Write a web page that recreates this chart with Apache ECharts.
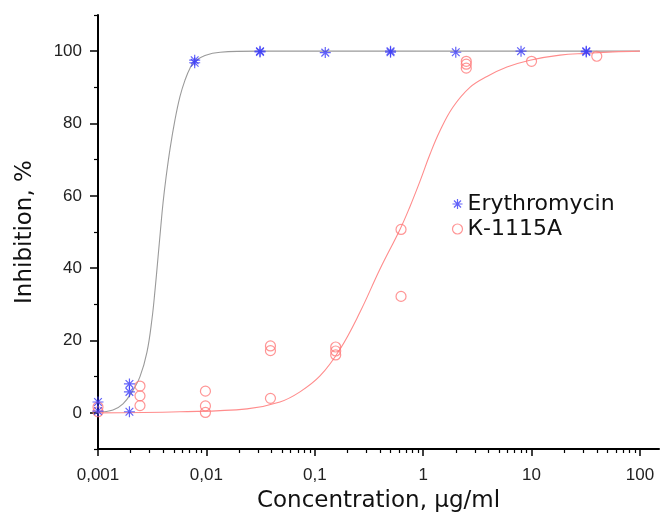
<!DOCTYPE html>
<html>
<head>
<meta charset="utf-8">
<script src="https://cdn.jsdelivr.net/npm/echarts@6/dist/echarts.min.js"></script>
<style>
html,body{margin:0;padding:0;background:#fff;}
#chart{width:662px;height:518px;}
</style>
</head>
<body>
<div id="chart"></div>
<script>
// ---- data ----
const seriesNames = ['Erythromycin', 'К-1115A'];

// Erythromycin measured points [concentration, inhibition %]
const erythromycinPoints = [
  [0.001, 3], [0.001, 0.5],
  [0.00195, 8], [0.00195, 5.8], [0.00195, 0.3],
  [0.0078, 97.5], [0.0078, 96.8],
  [0.03125, 100], [0.03125, 99.8],
  [0.125, 99.6],
  [0.5, 100], [0.5, 99.7],
  [2, 99.7],
  [8, 100],
  [32, 100], [32, 99.8]
];

// K-1115A measured points
const k1115Points = [
  [0.001, 1.6], [0.001, 0.3],
  [0.00244, 7.4], [0.00244, 4.7], [0.00244, 2],
  [0.0098, 6], [0.0098, 1.9], [0.0098, 0.1],
  [0.039, 18.5], [0.039, 17.2], [0.039, 4],
  [0.156, 18.2], [0.156, 17.1], [0.156, 16],
  [0.625, 50.7], [0.625, 32.2],
  [2.5, 97.2], [2.5, 96.4], [2.5, 95.3],
  [10, 97.2],
  [40, 98.6]
];

// fitted curves, points
const erythromycinCurve = [
  [0.001, 0.2], [0.001375, 0.8], [0.0017, 2.5], [0.00206, 5.8], [0.00244, 10],
  [0.00283, 16.8], [0.00315, 26], [0.00336, 34], [0.00358, 43], [0.00377, 50.5],
  [0.00398, 58], [0.00424, 65], [0.00462, 73], [0.00513, 81], [0.00571, 87.5],
  [0.00635, 92], [0.00706, 95.3], [0.00785, 97.2], [0.0097, 98.8], [0.0134, 99.7],
  [0.03, 100], [100, 100]
];
const k1115Curve = [
  [0.001, 0], [0.0057, 0.3], [0.0237, 1.1], [0.0477, 3], [0.073, 5.8],
  [0.1117, 10.2], [0.171, 17.6], [0.261, 27.8], [0.399, 39.7], [0.611, 50.7],
  [0.755, 57], [0.934, 64], [1.156, 71.5], [1.43, 78], [1.88, 84.5],
  [2.7, 90], [3.88, 93], [5.93, 95.6], [9.66, 97.5], [18.3, 98.9],
  [32.4, 99.4], [56.4, 99.8], [100, 100]
];

// axis ticks
const xMajorTicks = [0.001, 0.01, 0.1, 1, 10, 100];
const xMinorTicks = [];
[0.001, 0.01, 0.1, 1, 10].forEach(d => { for (let k = 2; k <= 9; k++) xMinorTicks.push(+(d * k).toPrecision(6)); });
const yMajorTicks = [0, 20, 40, 60, 80, 100];
const yMinorTicks = [-10, 10, 30, 50, 70, 90, 110];

// ---- chart ----
const asterisk = 'path://M0,-10L0,10M-10,0L10,0M-7,-7L7,7M-7,7L7,-7';
const blue = '#3c3cf7';
const red = '#ff7a7a';
const titleFont = 'DejaVu Sans';
const labelFont = 'Liberation Sans';

const chart = echarts.init(document.getElementById('chart'), null, {renderer: 'canvas'});
const xBase = {
  type: 'log', logBase: 10, min: 0.001, max: 150,
  gridIndex: 0, position: 'bottom', splitLine: {show: false}
};
const yBase = {
  type: 'value', min: -10, max: 110, gridIndex: 0, position: 'left', splitLine: {show: false}
};
chart.setOption({
  animation: false,
  backgroundColor: '#fff',
  grid: {left: 98, right: 3, top: 15, bottom: 67, containLabel: false},
  legend: {
    data: [
      {name: seriesNames[0], icon: asterisk, itemStyle: {color: 'none', borderColor: blue, borderWidth: 1.2}},
      {name: seriesNames[1], icon: 'circle', itemStyle: {color: 'none', borderColor: red, borderWidth: 1.2}}
    ],
    orient: 'vertical', left: 445, top: 188,
    itemWidth: 10, itemHeight: 10, itemGap: 3, itemTextGap: 8,
    textStyle: {fontFamily: titleFont, fontSize: 22, color: '#111'}
  },
  xAxis: [
    Object.assign({}, xBase, {
      name: 'Concentration, μg/ml', nameLocation: 'middle', nameGap: 41,
      nameTextStyle: {fontFamily: titleFont, fontSize: 23, color: '#111'},
      axisLine: {show: true, onZero: false, lineStyle: {color: '#000', width: 2}},
      axisTick: {show: true, inside: false, length: 7, customValues: xMajorTicks, lineStyle: {color: '#000', width: 1.5}},
      axisLabel: {show: true, margin: 18, customValues: xMajorTicks, fontFamily: labelFont, fontSize: 17, color: '#222',
        formatter: v => String(v).replace('.', ',')}
    }),
    Object.assign({}, xBase, {
      axisLine: {show: false, onZero: false},
      axisTick: {show: true, inside: false, length: 4, customValues: xMinorTicks, lineStyle: {color: '#000', width: 1.2}},
      axisLabel: {show: false}
    })
  ],
  yAxis: [
    Object.assign({}, yBase, {
      name: 'Inhibition, %', nameLocation: 'middle', nameGap: 61, nameRotate: 90,
      nameTextStyle: {fontFamily: titleFont, fontSize: 23, color: '#111'},
      axisLine: {show: true, onZero: false, lineStyle: {color: '#000', width: 2}},
      axisTick: {show: true, inside: false, length: 8, customValues: yMajorTicks, lineStyle: {color: '#000', width: 1.5}},
      axisLabel: {show: true, margin: 16, customValues: yMajorTicks, fontFamily: labelFont, fontSize: 17, color: '#222'}
    }),
    Object.assign({}, yBase, {
      axisLine: {show: false, onZero: false},
      axisTick: {show: true, inside: false, length: 4, customValues: yMinorTicks, lineStyle: {color: '#000', width: 1.2}},
      axisLabel: {show: false}
    })
  ],
  series: [
    {
      name: 'curve-ery', type: 'line', data: erythromycinCurve, smooth: 0.4,
      showSymbol: false, silent: true, xAxisIndex: 0, yAxisIndex: 0,
      lineStyle: {color: '#9a9a9a', width: 1.1}, z: 1
    },
    {
      name: 'curve-k', type: 'line', data: k1115Curve, smooth: 0.4,
      showSymbol: false, silent: true, xAxisIndex: 0, yAxisIndex: 0,
      lineStyle: {color: '#ff8c8c', width: 1.1}, z: 1
    },
    {
      name: seriesNames[1], type: 'scatter', data: k1115Points, symbol: 'circle', symbolSize: 10,
      xAxisIndex: 0, yAxisIndex: 0,
      itemStyle: {color: 'none', borderColor: red, borderWidth: 1.2}, z: 3
    },
    {
      name: seriesNames[0], type: 'scatter', data: erythromycinPoints, symbol: asterisk, symbolSize: 11,
      xAxisIndex: 0, yAxisIndex: 0,
      itemStyle: {color: 'none', borderColor: blue, borderWidth: 1.2}, z: 4
    }
  ]
});
</script>
</body>
</html>
